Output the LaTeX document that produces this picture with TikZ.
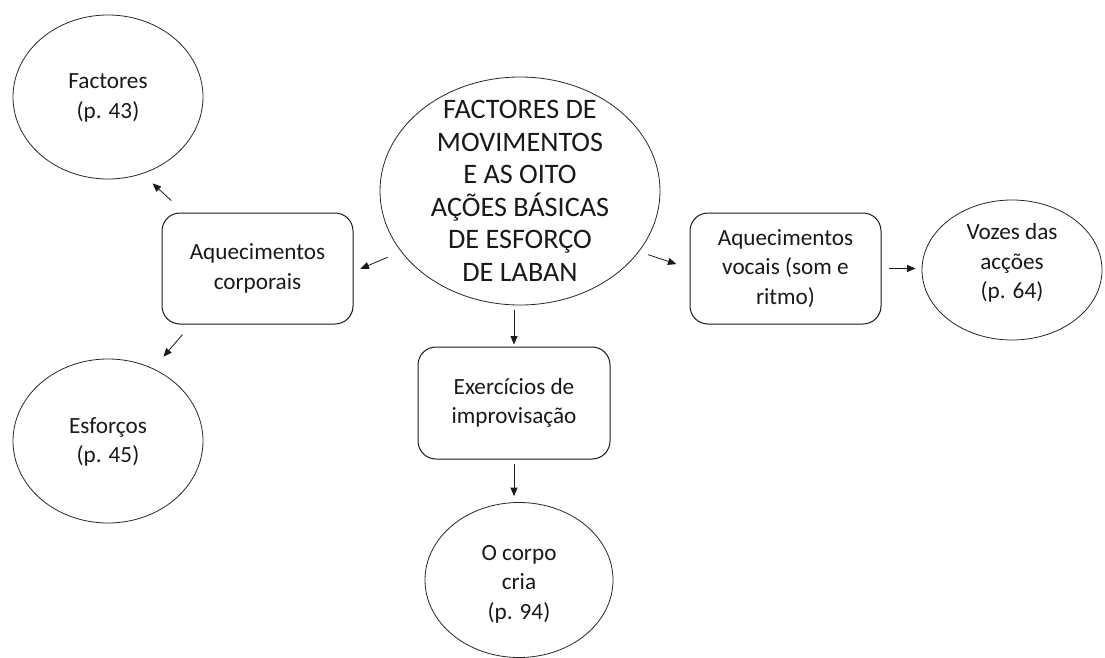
\documentclass[tikz,border=0pt]{standalone}
\usepackage{fontspec}
\setmainfont{Carlito}
\usetikzlibrary{shapes.geometric,arrows.meta,calc}
\begin{document}
\begin{tikzpicture}[x=1pt,y=-1pt,
  oval/.style={draw=black!85,line width=0.8pt,ellipse,inner sep=0pt},
  ovaltext/.style={align=center,text=black!90,inner sep=0pt,font=\fontsize{23.2}{29.5}\selectfont},
  bigtext/.style={align=center,text=black!90,inner sep=0pt,font=\fontsize{28.2}{32.5}\selectfont},
  roundbox/.style={draw=black!90,line width=1pt,rounded corners=18pt,minimum width=191pt,minimum height=111pt,inner sep=0pt,align=center,text=black!90,font=\fontsize{23.2}{29.5}\selectfont},
  arr/.style={-{Triangle[length=8.5pt,width=7pt]},line width=0.8pt,black!90}]
\useasboundingbox (0,0) rectangle (1105,658);
% ellipses
\node[oval,minimum width=280pt,minimum height=228pt,label={[bigtext]center:FACTORES DE\\MOVIMENTOS\\E AS OITO\\AÇÕES BÁSICAS\\DE ESFORÇO\\DE LABAN}] (central) at (520,191) {};
\node[oval,minimum width=190pt,minimum height=164pt,label={[ovaltext,yshift=-1pt]center:Factores\\(p. 43)}] (factores) at (108,97) {};
\node[oval,minimum width=190pt,minimum height=164pt,label={[ovaltext,yshift=-1pt]center:Esforços\\(p. 45)}] (esforcos) at (108,441) {};
\node[oval,minimum width=180pt,minimum height=140pt,label={[ovaltext,yshift=7pt]center:Vozes das\\acções\\(p. 64)}] (vozes) at (1012,270) {};
\node[oval,minimum width=188pt,minimum height=155pt,label={[ovaltext,yshift=-4pt]center:O corpo\\cria\\(p. 94)}] (corpo) at (519,580) {};
% boxes
\node[roundbox] (corporais) at (257.5,268.5) {Aquecimentos\\corporais};
\node[roundbox] (vocais) at (785.5,268.5) {Aquecimentos\\vocais (som e\\ritmo)};
\node[roundbox,minimum width=192pt,minimum height=112pt] (exercicios) at (514,403) {Exercícios de\\improvisação};
% arrows
\draw[arr,shorten <=17.5pt,shorten >=14pt] ([xshift=22.7pt]corporais.north west) -- (factores.294.5);
\draw[arr,shorten <=13.3pt,shorten >=15.5pt] ([xshift=29.7pt]corporais.south west) -- (esforcos.58.2);
\draw[arr,shorten <=14.4pt,shorten >=7.5pt] (central.207.8) -- ([yshift=-3.2pt]corporais.east);
\draw[arr,shorten <=9.6pt,shorten >=13.8pt] (central.333.9) -- (vocais.west);
\draw[arr,shorten <=7pt,shorten >=6pt] (vocais.east) -- (vocais.east -| vozes.west);
\draw[arr,shorten <=5pt,shorten >=2pt] (central.south -| exercicios.north) -- (exercicios.north);
\draw[arr,shorten <=4pt,shorten >=6pt] (exercicios.south) -- (exercicios.south |- corpo.north);
\end{tikzpicture}
\end{document}
